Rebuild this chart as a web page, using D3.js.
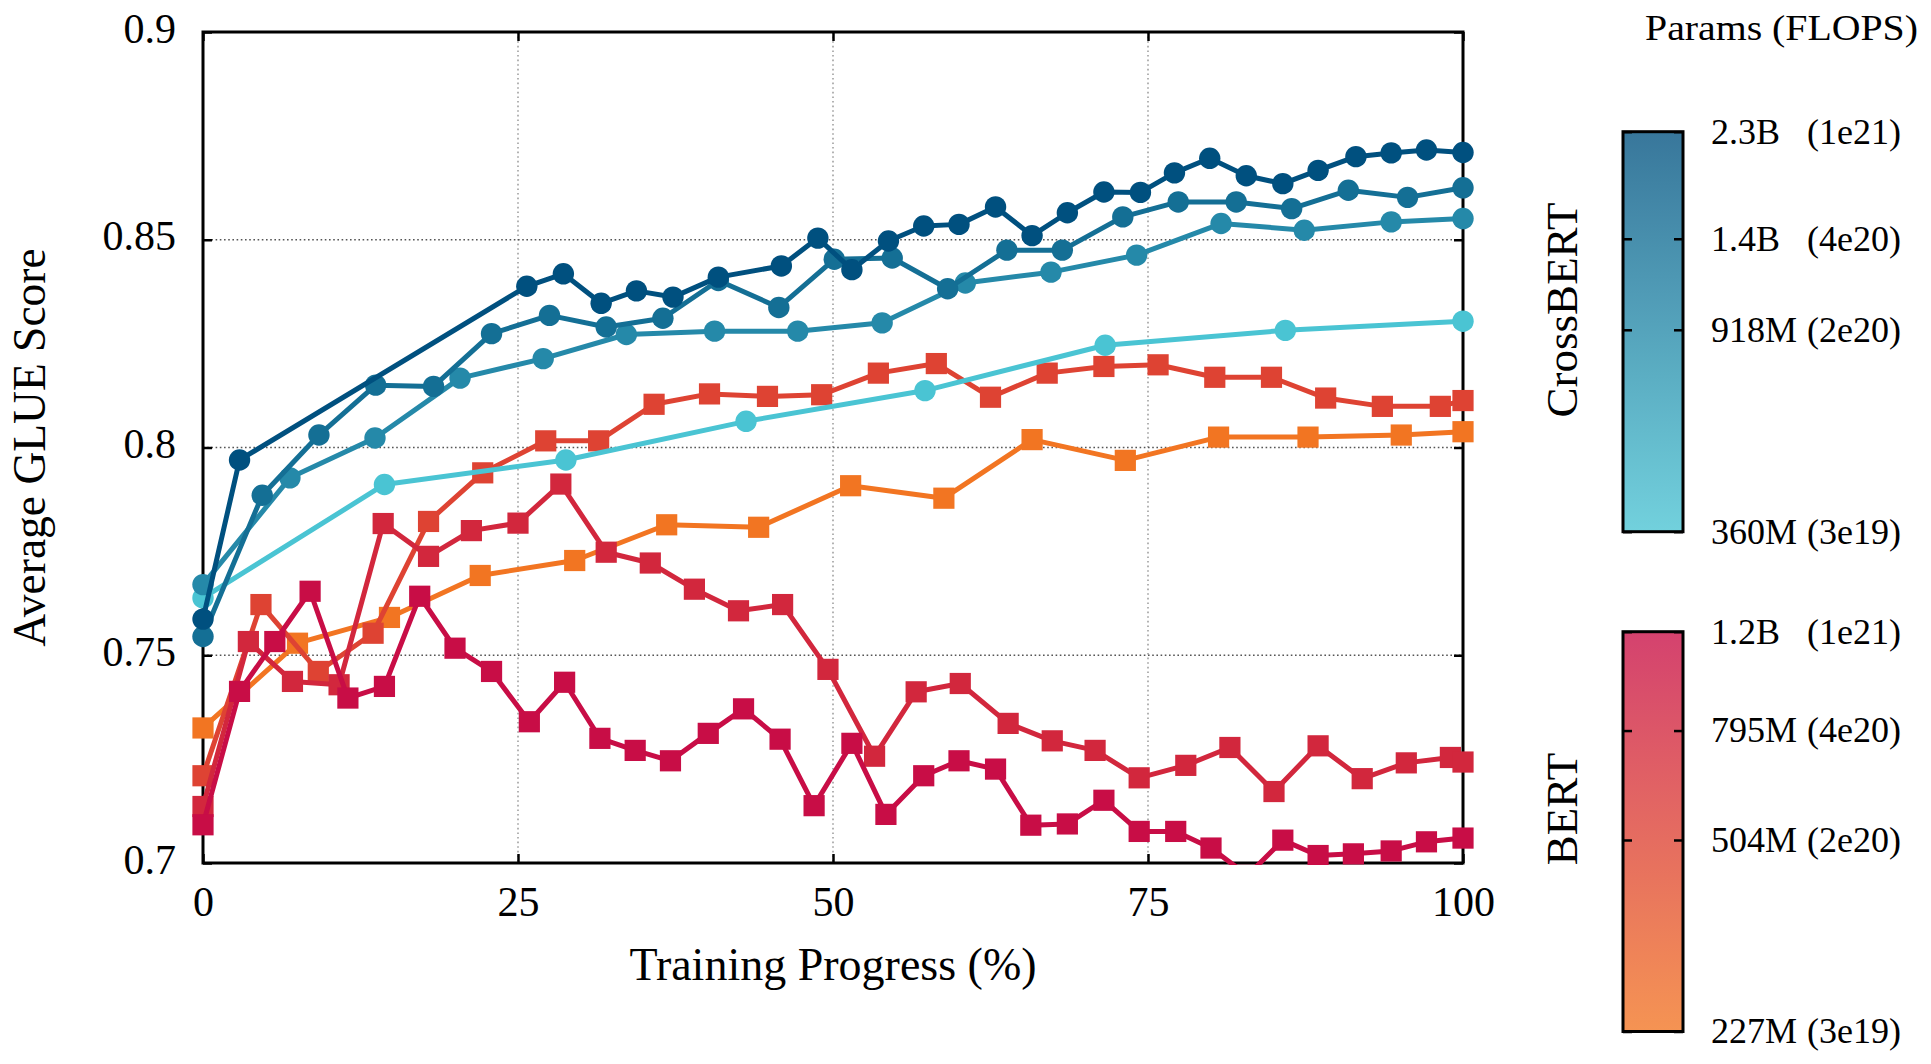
<!DOCTYPE html>
<html><head><meta charset="utf-8">
<script src="https://cdn.jsdelivr.net/npm/d3@7"></script>
<style>
html,body{margin:0;padding:0;background:#fff;}
svg{display:block;}
text{font-family:"Liberation Serif","Times New Roman",serif;fill:#000;}
</style></head><body>
<svg id="chart" width="1931" height="1064"></svg>
<script>
// ---------------- data ----------------
const xTicks = [0, 25, 50, 75, 100];
const xTickLabels = ["0", "25", "50", "75", "100"];
const yTicks = [0.7, 0.75, 0.8, 0.85, 0.9];
const yTickLabels = ["0.7", "0.75", "0.8", "0.85", "0.9"];
const xTitle = "Training Progress (%)";
const yTitle = "Average GLUE Score";
const legendTitle = "Params (FLOPS)";

// CrossBERT models (circles)
const crossNames = ["2.3B", "1.4B", "918M", "360M"];
const crossParams = [2.3e9, 1.4e9, 918e6, 360e6];
const crossFlops = ["(1e21)", "(4e20)", "(2e20)", "(3e19)"];

const cross2300M_x = [0, 2.9, 25.7, 28.6, 31.6, 34.4, 37.3, 40.9, 45.9, 48.8, 51.5, 54.4, 57.2, 60.0, 62.9, 65.8, 68.6, 71.5, 74.4, 77.1, 79.9, 82.8, 85.7, 88.5, 91.5, 94.3, 97.1, 100];
const cross2300M_y = [0.7587, 0.797, 0.8388, 0.8418, 0.8347, 0.8377, 0.8362, 0.841, 0.8437, 0.8504, 0.8428, 0.8497, 0.8533, 0.8537, 0.8579, 0.851, 0.8565, 0.8615, 0.8614, 0.8661, 0.8696, 0.8654, 0.8635, 0.8667, 0.87, 0.8709, 0.8716, 0.871];

const cross1400M_x = [0, 4.7, 9.2, 13.7, 18.3, 22.9, 27.5, 32.0, 36.5, 40.9, 45.7, 50.1, 54.7, 59.1, 63.8, 68.2, 73.0, 77.4, 82.0, 86.4, 90.9, 95.6, 100];
const cross1400M_y = [0.7545, 0.7885, 0.803, 0.815, 0.8147, 0.8274, 0.8318, 0.829, 0.8311, 0.8402, 0.8337, 0.8453, 0.8456, 0.8382, 0.8475, 0.8475, 0.8555, 0.8591, 0.8591, 0.8575, 0.8619, 0.8602, 0.8625];

const cross918M_x = [0, 6.9, 13.65, 20.4, 27.0, 33.6, 40.6, 47.2, 53.9, 60.5, 67.3, 74.1, 80.8, 87.4, 94.3, 100];
const cross918M_y = [0.767, 0.7927, 0.8023, 0.8167, 0.8214, 0.8272, 0.828, 0.828, 0.83, 0.8396, 0.8422, 0.8463, 0.8539, 0.8523, 0.8543, 0.8551];

const cross360M_x = [0, 14.4, 28.8, 43.1, 57.3, 71.6, 85.9, 100];
const cross360M_y = [0.7638, 0.7911, 0.797, 0.8063, 0.8137, 0.8246, 0.8282, 0.8304];

// BERT models (squares)
const bertNames = ["1.2B", "795M", "504M", "227M"];
const bertParams = [1.2e9, 795e6, 504e6, 227e6];
const bertFlops = ["(1e21)", "(4e20)", "(2e20)", "(3e19)"];

const bert1200M_x = [0, 2.9, 5.7, 8.5, 11.5, 14.4, 17.2, 20.0, 22.9, 25.9, 28.7, 31.5, 34.3, 37.1, 40.1, 42.9, 45.8, 48.5, 51.5, 54.2, 57.2, 60.0, 62.9, 65.7, 68.6, 71.5, 74.3, 77.2, 80.0, 82.9, 85.7, 88.5, 91.3, 94.3, 97.1, 100];
const bert1200M_y = [0.7092, 0.7413, 0.7533, 0.7654, 0.7397, 0.7425, 0.7642, 0.7517, 0.7461, 0.734, 0.7435, 0.73, 0.7271, 0.7246, 0.7312, 0.7371, 0.7298, 0.7138, 0.7288, 0.7117, 0.721, 0.7246, 0.7226, 0.7091, 0.7094, 0.7151, 0.7076, 0.7076, 0.7036, 0.697, 0.7055, 0.7018, 0.7022, 0.7029, 0.7051, 0.706];

const bert795M_x = [0, 3.6, 7.1, 10.8, 14.3, 17.9, 21.3, 25.0, 28.4, 32.0, 35.5, 39.0, 42.5, 46.0, 49.6, 53.3, 56.6, 60.1, 63.9, 67.4, 70.8, 74.3, 78.0, 81.5, 85.0, 88.5, 92.0, 95.5, 99.0, 100];
const bert795M_y = [0.7136, 0.7533, 0.7437, 0.7429, 0.7817, 0.7738, 0.78, 0.7818, 0.7912, 0.7748, 0.7722, 0.7659, 0.7607, 0.7622, 0.7466, 0.7257, 0.7412, 0.7432, 0.7336, 0.7294, 0.7271, 0.7205, 0.7235, 0.7278, 0.7172, 0.7282, 0.7203, 0.7241, 0.7254, 0.7243];

const bert504M_x = [0, 4.6, 9.15, 13.5, 17.9, 22.2, 27.2, 31.4, 35.8, 40.2, 44.8, 49.1, 53.6, 58.2, 62.5, 67.0, 71.5, 75.8, 80.3, 84.8, 89.1, 93.6, 98.2, 100];
const bert504M_y = [0.721, 0.7622, 0.7461, 0.7553, 0.7822, 0.7939, 0.8016, 0.8016, 0.8104, 0.8129, 0.8123, 0.8127, 0.8179, 0.8202, 0.8121, 0.8179, 0.8195, 0.8199, 0.8169, 0.8169, 0.8119, 0.8099, 0.8099, 0.8113];

const bert227M_x = [0, 7.5, 14.8, 22.0, 29.5, 36.8, 44.1, 51.4, 58.8, 65.8, 73.2, 80.6, 87.7, 95.1, 100];
const bert227M_y = [0.7325, 0.7529, 0.7591, 0.7692, 0.7728, 0.7814, 0.7808, 0.7908, 0.7878, 0.8019, 0.7969, 0.8025, 0.8025, 0.803, 0.8038];

// ---------------- styles ----------------
const crossTopColor = "#00507f", crossBottomColor = "#4ac4d3";
const bertTopColor = "#c80d46", bertBottomColor = "#f27522";
const barOpacity = 0.78;

const svg = d3.select("#chart");
const M = {left: 203, right: 1463, top: 32, bottom: 863};

const x = d3.scaleLinear().domain([0, 100]).range([M.left, M.right]);
const y = d3.scaleLinear().domain([0.7, 0.9]).range([M.bottom, M.top]);

const crossColor = d3.scaleLog().domain([360e6, 2.3e9]).range([crossBottomColor, crossTopColor]).interpolate(d3.interpolateRgb);
const bertColor = d3.scaleLog().domain([227e6, 1.2e9]).range([bertBottomColor, bertTopColor]).interpolate(d3.interpolateRgb);

// grid
const grid = svg.append("g");
grid.selectAll("line.v").data(xTicks.filter(d => d > 0 && d < 100)).enter().append("line")
  .attr("x1", d => x(d)).attr("x2", d => x(d)).attr("y1", M.top).attr("y2", M.bottom)
  .attr("stroke", "#8a8a8a").attr("stroke-width", 1.3).attr("stroke-dasharray", "1.6 3");
grid.selectAll("line.h").data(yTicks.filter(d => d > 0.7 && d < 0.9)).enter().append("line")
  .attr("x1", M.left).attr("x2", M.right).attr("y1", d => y(d)).attr("y2", d => y(d))
  .attr("stroke", "#555").attr("stroke-width", 1.3).attr("stroke-dasharray", "1.6 2.6");

// axes
const fs = 42;
const ax = d3.axisBottom(x).tickValues(xTicks).tickFormat((d, i) => xTickLabels[i]).tickSizeInner(-9).tickSizeOuter(0).tickPadding(23);
const gx = svg.append("g").attr("transform", `translate(0,${M.bottom})`).call(ax);
const ay = d3.axisLeft(y).tickValues(yTicks).tickFormat((d, i) => yTickLabels[i]).tickSizeInner(-9).tickSizeOuter(0).tickPadding(27);
const gy = svg.append("g").attr("transform", `translate(${M.left},0)`).call(ay);
const axTop = d3.axisTop(x).tickValues(xTicks).tickFormat("").tickSizeInner(-9).tickSizeOuter(0);
const gxt = svg.append("g").attr("transform", `translate(0,${M.top})`).call(axTop);
const ayR = d3.axisRight(y).tickValues(yTicks).tickFormat("").tickSizeInner(-9).tickSizeOuter(0);
const gyr = svg.append("g").attr("transform", `translate(${M.right},0)`).call(ayR);
[gx, gy, gxt, gyr].forEach(g => {
  g.select(".domain").remove();
  g.selectAll(".tick line").attr("stroke", "#000").attr("stroke-width", 2.5);
  g.selectAll(".tick text").attr("font-size", fs).attr("font-family", "Liberation Serif").attr("fill", "#000");
});
gy.selectAll(".tick text").attr("dy", "0.24em");

// frame
svg.append("rect").attr("x", M.left).attr("y", M.top).attr("width", M.right - M.left).attr("height", M.bottom - M.top)
  .attr("fill", "none").attr("stroke", "#000").attr("stroke-width", 3);

// titles
svg.append("text").attr("x", (M.left + M.right) / 2).attr("y", 980).attr("text-anchor", "middle")
  .attr("font-size", 46).text(xTitle);
svg.append("text").attr("transform", `translate(45,${(M.top + M.bottom) / 2}) rotate(-90)`).attr("text-anchor", "middle")
  .attr("font-size", 45.5).text(yTitle);

// clip (bottom only)
svg.append("clipPath").attr("id", "clipP").append("rect")
  .attr("x", 0).attr("y", 0).attr("width", 1931).attr("height", M.bottom + 2);

// series
const series = [
  {type: "sq", params: 227e6, xs: bert227M_x, ys: bert227M_y},
  {type: "sq", params: 504e6, xs: bert504M_x, ys: bert504M_y},
  {type: "sq", params: 795e6, xs: bert795M_x, ys: bert795M_y},
  {type: "sq", params: 1.2e9, xs: bert1200M_x, ys: bert1200M_y},
  {type: "ci", params: 360e6, xs: cross360M_x, ys: cross360M_y},
  {type: "ci", params: 918e6, xs: cross918M_x, ys: cross918M_y},
  {type: "ci", params: 1.4e9, xs: cross1400M_x, ys: cross1400M_y},
  {type: "ci", params: 2.3e9, xs: cross2300M_x, ys: cross2300M_y}
];
const line = d3.line().x(d => x(d[0])).y(d => y(d[1]));
const plotG = svg.append("g").attr("clip-path", "url(#clipP)");
series.forEach(s => {
  const col = s.type === "ci" ? crossColor(s.params) : bertColor(s.params);
  const pts = s.xs.map((v, i) => [v, s.ys[i]]);
  const g = plotG.append("g");
  g.append("path").datum(pts).attr("d", line).attr("fill", "none").attr("stroke", col)
    .attr("stroke-width", 5).attr("stroke-linejoin", "round");
  if (s.type === "ci") {
    g.selectAll("circle").data(pts).enter().append("circle")
      .attr("cx", d => x(d[0])).attr("cy", d => y(d[1])).attr("r", 10.7).attr("fill", col);
  } else {
    const h = 10.6;
    g.selectAll("rect").data(pts).enter().append("rect")
      .attr("x", d => x(d[0]) - h).attr("y", d => y(d[1]) - h).attr("width", 2 * h).attr("height", 2 * h).attr("fill", col);
  }
});

// colorbars
const defs = svg.append("defs");
const bars = [
  {id: "gCross", top: 131.7, bottom: 531.7, names: crossNames, params: crossParams, flops: crossFlops, color: crossColor, label: "CrossBERT", labelY: 310},
  {id: "gBert", top: 631.7, bottom: 1031.5, names: bertNames, params: bertParams, flops: bertFlops, color: bertColor, label: "BERT", labelY: 809}
];
const barX = 1623, barW = 60;
bars.forEach(b => {
  const dom = [d3.min(b.params), d3.max(b.params)];
  const sc = d3.scaleLog().domain(dom).range([b.bottom, b.top]);
  const grad = defs.append("linearGradient").attr("id", b.id).attr("x1", 0).attr("x2", 0).attr("y1", 1).attr("y2", 0);
  d3.range(0, 1.0001, 0.1).forEach(t => {
    const p = Math.exp(Math.log(dom[0]) + t * (Math.log(dom[1]) - Math.log(dom[0])));
    grad.append("stop").attr("offset", t).attr("stop-color", b.color(p)).attr("stop-opacity", barOpacity);
  });
  svg.append("rect").attr("x", barX).attr("y", b.top).attr("width", barW).attr("height", b.bottom - b.top)
    .attr("fill", `url(#${b.id})`);
  const gl = svg.append("g").attr("transform", `translate(${barX},0)`).call(d3.axisRight(sc).tickValues(b.params).tickFormat("").tickSizeInner(9).tickSizeOuter(0));
  const gr = svg.append("g").attr("transform", `translate(${barX + barW},0)`).call(d3.axisLeft(sc).tickValues(b.params).tickFormat("").tickSizeInner(9).tickSizeOuter(0));
  [gl, gr].forEach(g => { g.select(".domain").remove(); g.selectAll(".tick line").attr("stroke", "#000").attr("stroke-width", 2.5); });
  svg.append("rect").attr("x", barX).attr("y", b.top).attr("width", barW).attr("height", b.bottom - b.top)
    .attr("fill", "none").attr("stroke", "#000").attr("stroke-width", 3);
  svg.append("g").selectAll("text").data(b.params).enter().append("text")
    .attr("x", 1711).attr("y", d => sc(d)).attr("dy", "0.33em").attr("font-size", 36)
    .text((d, i) => b.names[i]);
  svg.append("g").selectAll("text").data(b.params).enter().append("text")
    .attr("x", 1807).attr("y", d => sc(d)).attr("dy", "0.33em").attr("font-size", 36)
    .text((d, i) => b.flops[i]);
  svg.append("text").attr("transform", `translate(1577,${b.labelY}) rotate(-90)`).attr("text-anchor", "middle")
    .attr("font-size", 45).text(b.label);
});
svg.append("text").attr("x", 1645).attr("y", 40).attr("font-size", 36).attr("textLength", 273)
  .attr("lengthAdjust", "spacingAndGlyphs").text(legendTitle);
</script>
</body></html>
